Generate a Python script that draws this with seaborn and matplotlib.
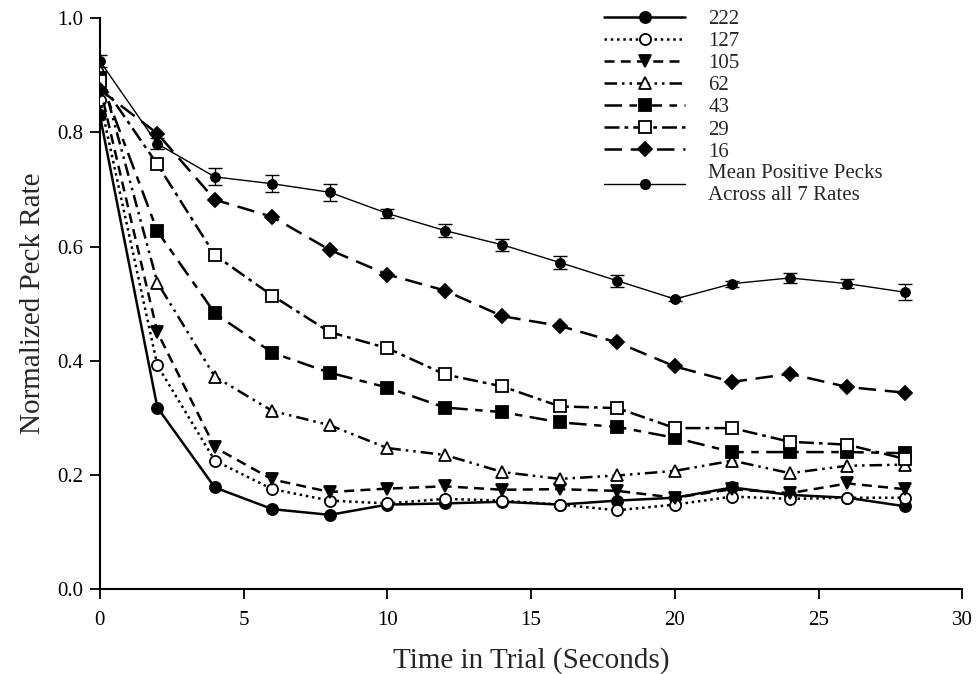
import numpy as np
import pandas as pd
import matplotlib
matplotlib.use("Agg")
import matplotlib.pyplot as plt
import seaborn as sns
from matplotlib.lines import Line2D

time = [0, 2, 4, 6, 8, 10, 12, 14, 16, 18, 20, 22, 24, 26, 28]

r222 = [0.830, 0.318, 0.178, 0.140, 0.130, 0.148, 0.150, 0.153, 0.148, 0.155, 0.160, 0.178, 0.165, 0.160, 0.145]
r127 = [0.857, 0.392, 0.225, 0.175, 0.155, 0.150, 0.158, 0.155, 0.148, 0.138, 0.148, 0.162, 0.158, 0.160, 0.160]
r105 = [0.880, 0.450, 0.248, 0.192, 0.170, 0.176, 0.180, 0.174, 0.175, 0.172, 0.160, 0.175, 0.168, 0.185, 0.175]
r62 = [0.910, 0.537, 0.372, 0.312, 0.287, 0.247, 0.235, 0.205, 0.193, 0.199, 0.207, 0.225, 0.203, 0.216, 0.218]
r43 = [0.895, 0.627, 0.483, 0.414, 0.379, 0.353, 0.318, 0.310, 0.292, 0.284, 0.265, 0.240, 0.240, 0.240, 0.238]
r29 = [0.890, 0.744, 0.585, 0.514, 0.450, 0.422, 0.376, 0.355, 0.320, 0.317, 0.282, 0.282, 0.258, 0.253, 0.228]
r16 = [0.875, 0.798, 0.682, 0.652, 0.594, 0.551, 0.523, 0.478, 0.461, 0.432, 0.390, 0.363, 0.377, 0.354, 0.344]
mean_pos = [0.925, 0.780, 0.722, 0.710, 0.695, 0.658, 0.628, 0.603, 0.572, 0.540, 0.508, 0.535, 0.545, 0.535, 0.520]
mean_err = [0.010, 0.010, 0.015, 0.015, 0.015, 0.008, 0.012, 0.010, 0.012, 0.010, 0.003, 0.005, 0.008, 0.008, 0.014]

labels = ["222", "127", "105", "62", "43", "29", "16"]
series = [r222, r127, r105, r62, r43, r29, r16]
mean_label = "Mean Positive Pecks\nAcross all 7 Rates"

styles = {
    "222": dict(marker="o", mfc="black", dash=(None)),
    "127": dict(marker="o", mfc="white", dash=(1, 1.5)),
    "105": dict(marker="v", mfc="black", dash=(4, 2.5)),
    "62": dict(marker="^", mfc="white", dash=(5, 2, 1, 2, 1, 2)),
    "43": dict(marker="s", mfc="black", dash=(7, 3, 3, 3)),
    "29": dict(marker="s", mfc="white", dash=(6, 2, 1.5, 2)),
    "16": dict(marker="D", mfc="black", dash=(7, 3.5)),
}

sns.set_style("ticks")
plt.rcParams["font.family"] = ["Liberation Serif", "DejaVu Serif"]

fig = plt.figure(figsize=(9.79, 6.74), dpi=100)
ax = fig.add_axes([0.102, 0.126, 0.881, 0.847])

handles = []
for lab, vals in zip(labels, series):
    st = styles[lab]
    df = pd.DataFrame({"t": time, "v": vals})
    ms = 8 if st["marker"] != "D" else 7
    sns.lineplot(data=df, x="t", y="v", ax=ax, color="black", linewidth=1.8,
                 marker=st["marker"], markersize=ms,
                 markerfacecolor=st["mfc"], markeredgecolor="black", markeredgewidth=1.3,
                 zorder=3)
    line = ax.lines[-1]
    if st["dash"] is None:
        line.set_linestyle("-")
    else:
        line.set_dashes(st["dash"])
    h = Line2D([], [], color="black", linewidth=1.8, marker=st["marker"],
               markersize=ms,
               markerfacecolor=st["mfc"], markeredgecolor="black", markeredgewidth=1.3)
    if st["dash"] is None:
        h.set_linestyle("-")
    else:
        h.set_dashes(st["dash"])
    handles.append(h)

dfm = pd.DataFrame({"t": time, "v": mean_pos})
sns.lineplot(data=dfm, x="t", y="v", ax=ax, color="black", linewidth=1.0,
             marker="o", markersize=7, markeredgecolor="black", zorder=4)
ax.errorbar(time, mean_pos, yerr=mean_err, fmt="none", ecolor="black",
            elinewidth=1.0, capsize=5, capthick=1.0, zorder=4)
handles.append(Line2D([], [], color="black", linewidth=1.0, marker="o", markersize=7))

ax.set_xlim(0, 30)
ax.set_ylim(0, 1.0)
ax.set_xticks([0, 5, 10, 15, 20, 25, 30])
ax.set_yticks([0.0, 0.2, 0.4, 0.6, 0.8, 1.0])
ax.set_yticklabels(["0.0", "0.2", "0.4", "0.6", "0.8", "1.0"])
ax.tick_params(axis="both", direction="out", length=7, width=1.3, labelsize=15,
               colors="black", pad=5)
ax.tick_params(axis="x", pad=9)
for s in ["left", "bottom"]:
    ax.spines[s].set_linewidth(1.5)
    ax.spines[s].set_color("black")
sns.despine(ax=ax)
ax.set_xlabel("Time in Trial (Seconds)", fontsize=21, labelpad=12)
ax.set_ylabel("Normalized Peck Rate", fontsize=21, labelpad=8)

leg = ax.legend(handles, labels + [mean_label], loc="upper left",
                bbox_to_anchor=(0.563, 1.048), frameon=False, fontsize=15,
                handlelength=3.9, handletextpad=1.1, labelspacing=0.12)

fig.savefig("out.png", dpi=100)
